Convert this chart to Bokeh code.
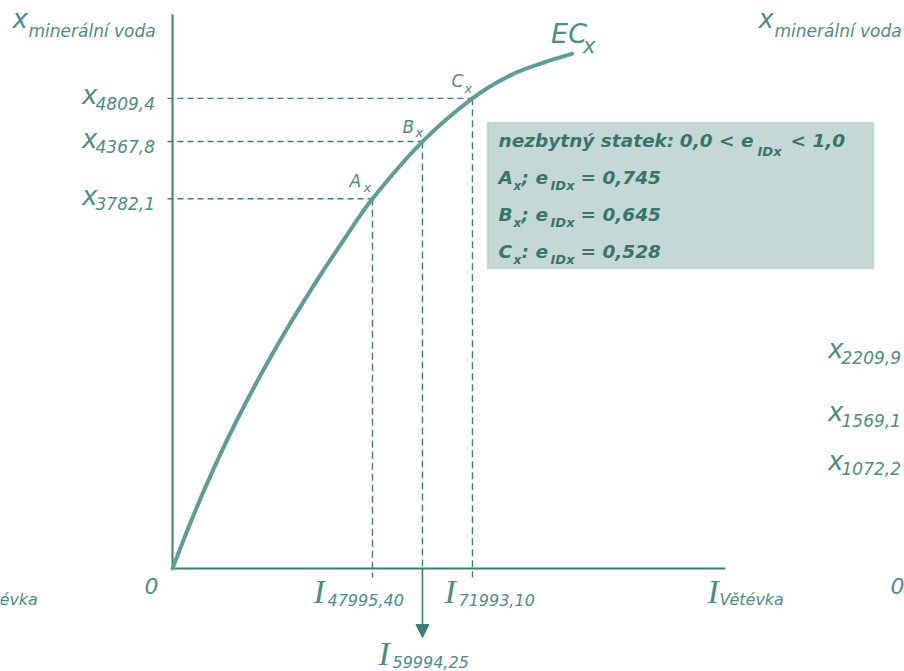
from bokeh.plotting import figure
from bokeh.models import Range1d, Arrow, NormalHead, BoxAnnotation
from bokeh.embed import file_html
from bokeh.resources import INLINE
from bokeh.core.properties import value

# Engel curve EC_x: quantity of mineral water against income
income_curve = [0, 3840, 7850, 11830, 15840, 19920, 24000, 29110, 35520, 41110,
                47995.40, 59994.25, 71993.10, 81100, 89100, 95900]
qty_curve = [0, 420, 827, 1201, 1550, 1883, 2197, 2567, 3003, 3361,
             3782.1, 4367.8, 4809.4, 5045, 5175, 5265]

point_names = ["A", "B", "C"]
point_income = [47995.40, 59994.25, 71993.10]
point_qty = [3782.1, 4367.8, 4809.4]
income_labels = ["47995,40", "59994,25", "71993,10"]
qty_labels = ["3782,1", "4367,8", "4809,4"]
elasticities = ["0,745", "0,645", "0,528"]

# tick labels belonging to the neighbouring panel on the right
next_qty = [2209.9, 1569.1, 1072.2]
next_qty_labels = ["2209,9", "1569,1", "1072,2"]

income_axis_max = 132700
qty_axis_max = 5670

W, H = 904, 671
OX, OY = 172, 568          # origin in pixels
SX, SY = 240.0, 10.23      # data units per pixel
SHIFT = 746                # distance to the neighbouring panels, px

AXIS = "#3f7d74"
CURVE = "#5f9c93"
TEXT = "#4e8b82"
BOXTEXT = "#3a756c"
SANS = "DejaVu Sans"
SERIF = "Liberation Serif"

p = figure(width=W, height=H, output_backend="svg", toolbar_location=None,
           x_range=Range1d(-OX * SX, (W - OX) * SX),
           y_range=Range1d(-(H - OY) * SY, OY * SY),
           min_border=0, background_fill_color="white")
p.axis.visible = False
p.xgrid.visible = False
p.ygrid.visible = False
p.outline_line_color = None


def px(x):
    return (x - OX) * SX


def py(y):
    return (OY - y) * SY


def txt(x, y, s, size, color=TEXT, style="italic", font=SANS, align="left", xo=0, yo=0):
    # the svg text sits a little low for an alphabetic baseline; lift it
    lift = round(0.35 * size)
    p.text(x=[x], y=[y], text=[s], text_font=value(font), text_font_size=f"{size}px",
           text_font_style=style, text_color=color, text_align=align,
           text_baseline="alphabetic", x_offset=xo, y_offset=yo - lift)


# elasticity box (drawn below everything else)
p.add_layout(BoxAnnotation(left=px(487), right=px(873), top=py(122), bottom=py(268),
                           fill_color="#c4d9d5", fill_alpha=1, level="underlay",
                           line_color="#8db2ab", line_width=2))

# axes
p.line([0, 0], [0, qty_axis_max], line_color=AXIS, line_width=2)
p.line([0, income_axis_max], [0, 0], line_color=AXIS, line_width=2)

# guide lines from the points to the axes
p.segment(x0=[-5 * SX] * 3, y0=point_qty, x1=point_income, y1=point_qty,
          line_color=AXIS, line_width=1.4, line_dash="6 4")
p.segment(x0=[point_income[0], point_income[2]], y0=[point_qty[0], point_qty[2]],
          x1=[point_income[0], point_income[2]], y1=[-9 * SY, -9 * SY],
          line_color=AXIS, line_width=1.4, line_dash="7 4")
p.segment(x0=[point_income[1]], y0=[point_qty[1]], x1=[point_income[1]], y1=[0],
          line_color=AXIS, line_width=1.4, line_dash="7 4")
p.add_layout(Arrow(end=NormalHead(size=13, fill_color=AXIS, line_color=AXIS),
                   x_start=point_income[1], y_start=0,
                   x_end=point_income[1], y_end=-69 * SY,
                   line_color=AXIS, line_width=1.6))

# Engel curve, drawn as a smooth chain of cubic pieces through the points
n = len(income_curve)
bx0, by0, bx1, by1, cx0, cy0, cx1, cy1 = ([] for _ in range(8))
for k in range(n - 1):
    a = max(k - 1, 0)
    d = min(k + 2, n - 1)
    bx0.append(income_curve[k]); by0.append(qty_curve[k])
    bx1.append(income_curve[k + 1]); by1.append(qty_curve[k + 1])
    cx0.append(income_curve[k] + (income_curve[k + 1] - income_curve[a]) / 6)
    cy0.append(qty_curve[k] + (qty_curve[k + 1] - qty_curve[a]) / 6)
    cx1.append(income_curve[k + 1] - (income_curve[d] - income_curve[k]) / 6)
    cy1.append(qty_curve[k + 1] - (qty_curve[d] - qty_curve[k]) / 6)
p.bezier(x0=bx0, y0=by0, x1=bx1, y1=by1, cx0=cx0, cy0=cy0, cx1=cx1, cy1=cy1,
         line_color=CURVE, line_width=4, line_cap="round")

# curve name
txt(income_curve[-1], qty_curve[-1], "EC", 27, xo=-21, yo=-11)
txt(income_curve[-1], qty_curve[-1], "x", 21, xo=11, yo=-1)

# point names
name_dx = [(-23, -9), (-20, -7), (-21, -8)]
name_dy = [(-12, -6), (-9, -4), (-11, -5)]
for nm, i, q, (mx, sx), (my, sy) in zip(point_names, point_income, point_qty, name_dx, name_dy):
    txt(i, q, nm, 17, xo=mx, yo=my)
    txt(i, q, "x", 13, xo=sx, yo=sy)

# vertical axis labels
for shift in (0, SHIFT):
    txt(px(12 + shift), py(27), "x", 26)
    txt(px(28 + shift), py(36), "minerální voda", 17)
for q, lab in zip(point_qty, qty_labels):
    txt(0, q, "x", 26, align="right", xo=-75, yo=6)
    txt(0, q, lab, 17, xo=-77, yo=11)
for q, lab in zip(next_qty, next_qty_labels):
    txt(SHIFT * SX, q, "x", 26, align="right", xo=-75, yo=6)
    txt(SHIFT * SX, q, lab, 17, xo=-77, yo=11)

# origin labels
for shift in (0, SHIFT):
    txt(shift * SX, 0, "0", 22, align="right", xo=-14, yo=25)

# horizontal axis labels
i_pos = [(-59, -45, 35, 37), (-44, -30, 97, 99), (-28, -14, 35, 37)]
for i, lab, (mx, sx, my, sy) in zip(point_income, income_labels, i_pos):
    txt(i, 0, "I", 34, font=SERIF, xo=mx, yo=my)
    txt(i, 0, lab, 16, xo=sx, yo=sy)
for shift in (0, -SHIFT):
    txt(income_axis_max + shift * SX, 0, "I", 34, font=SERIF, xo=-18, yo=35)
    txt(income_axis_max + shift * SX, 0, "Větévka", 16, xo=-6, yo=37)

# elasticity box text
BS = "bold italic"
FS = 18.5
txt(px(498), py(146), "nezbytný statek:", FS, BOXTEXT, BS)
txt(px(753), py(146), "0,0 < e", FS, BOXTEXT, BS, align="right")
txt(px(757), py(156), "IDx", 13, BOXTEXT, BS)
txt(px(790), py(146), "< 1,0", FS, BOXTEXT, BS)
line_y = [183, 220, 257]
for nm, e, yb in zip(point_names, elasticities, line_y):
    txt(px(498), py(yb), nm, FS, BOXTEXT, BS)
    txt(px(513), py(yb + 6), "x", 12, BOXTEXT, BS)
    txt(px(521), py(yb), ";" if nm != "C" else ":", FS, BOXTEXT, BS)
    txt(px(535), py(yb), "e", FS, BOXTEXT, BS)
    txt(px(550), py(yb + 7), "IDx", 13, BOXTEXT, BS)
    txt(px(580), py(yb), "= " + e, FS, BOXTEXT, BS)

open("out.html", "w").write(file_html(p, INLINE))
